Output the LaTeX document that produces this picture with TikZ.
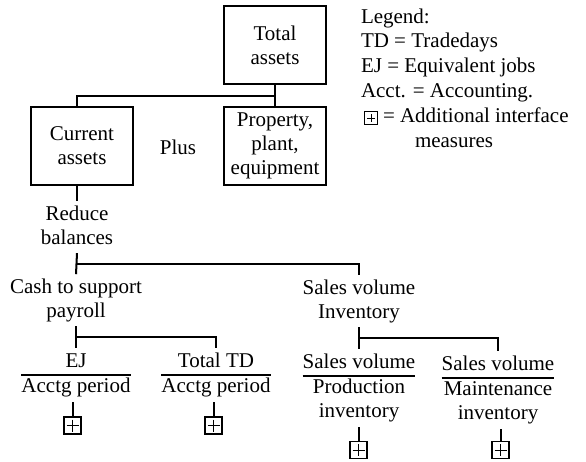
\documentclass[tikz,border=0pt]{standalone}
\usepackage{fontspec}
\setmainfont{Liberation Serif}
\usetikzlibrary{calc}
% stacked lines, baseline on the first line
\newcommand\stk[1]{\begin{tabular}[t]{@{}c@{}}#1\end{tabular}}
% ratio: numerator over a rule over denominator
\newcommand\frc[2]{\begin{tabular}[t]{@{}c@{}}#1\\\hline #2\end{tabular}}
\setlength\arrayrulewidth{1.8pt}

\begin{document}
\begin{tikzpicture}[x=1pt,y=-1pt,
  font=\fontsize{21}{24}\selectfont,
  line width=2pt,
  box/.style={draw, minimum width=102pt, minimum height=78pt, align=center, inner sep=0pt},
  lbl/.style={anchor=base, inner sep=0pt, outer ysep=2pt},
  pbox/.style={draw, minimum size=#1, inner sep=0pt, line width=1.6pt,
    path picture={\draw[line width=1pt]
      ([xshift=2.5pt]path picture bounding box.west) -- ([xshift=-2.5pt]path picture bounding box.east)
      ([yshift=-2.5pt]path picture bounding box.north) -- ([yshift=2.5pt]path picture bounding box.south);}},
  pbox/.default=17pt]
\useasboundingbox (0,0) rectangle (586,461);

% asset boxes
\node[box] (total) at (275,45) {Total\\assets};
\node[box] (cur) at (82,146) {Current\\assets};
\node[box] (prop) at (275,146) {Property,\\plant,\\equipment};
\node (plus) at (178,147) {Plus};

% measures
\node[lbl] (reduce) at (77,220) {\stk{Reduce\\balances}};
\node[lbl] (cash) at (76,293) {\stk{Cash to support\\payroll}};
\node[lbl] (sales) at (359,294) {\stk{Sales volume\\Inventory}};
\node[lbl] (ej) at (76,367) {\frc{EJ}{Acctg period}};
\node[lbl] (td) at (216,367) {\frc{Total TD}{Acctg period}};
\node[lbl] (prod) at (359,368) {\frc{Sales volume}{Production\\inventory}};
\node[lbl] (maint) at (498,370) {\frc{Sales volume}{Maintenance\\inventory}};

% interface markers
\node[pbox] (p1) at (72.5,425.5) {};
\node[pbox] (p2) at (213.5,425.5) {};
\node[pbox] (p3) at (358.5,450) {};
\node[pbox] (p4) at (500.5,450) {};

% legend
\node[anchor=base west, inner sep=0pt] (legend) at (360,23)
  {\renewcommand\arraystretch{1.04}\begin{tabular}[t]{@{}l@{}}Legend:\\TD = Tradedays\\EJ = Equivalent jobs\\Acct. = Accounting.\\\hspace*{22pt}= Additional interface\\\hspace*{54pt}measures\end{tabular}};
\node[pbox=13pt] (pk) at (371,118) {};

% connectors
\draw (total.south) -- (prop.north);
\draw ($(total.south)!0.5!(prop.north)$) -| (reduce.north |- cur.north);
\draw (reduce.north |- cur.south) -- (reduce.north);
\draw (reduce.south) -- (cash.north);
\draw ($(reduce.south)!0.5!(cash.north)$) -| (sales.north);
\draw (cash.south) -- (cash.south |- ej.north);
\draw ($(cash.south)!0.5!(cash.south |- ej.north)$) -| (td.north);
\draw (sales.south) -- (prod.north);
\draw ($(sales.south)!0.5!(prod.north)$) -| (maint.north);
\draw (p1.north) -- (p1.north |- ej.south);
\draw (p2.north) -- (p2.north |- td.south);
\draw (p3.north) -- (p3.north |- prod.south);
\draw (p4.north) -- (p4.north |- maint.south);
\end{tikzpicture}
\end{document}
